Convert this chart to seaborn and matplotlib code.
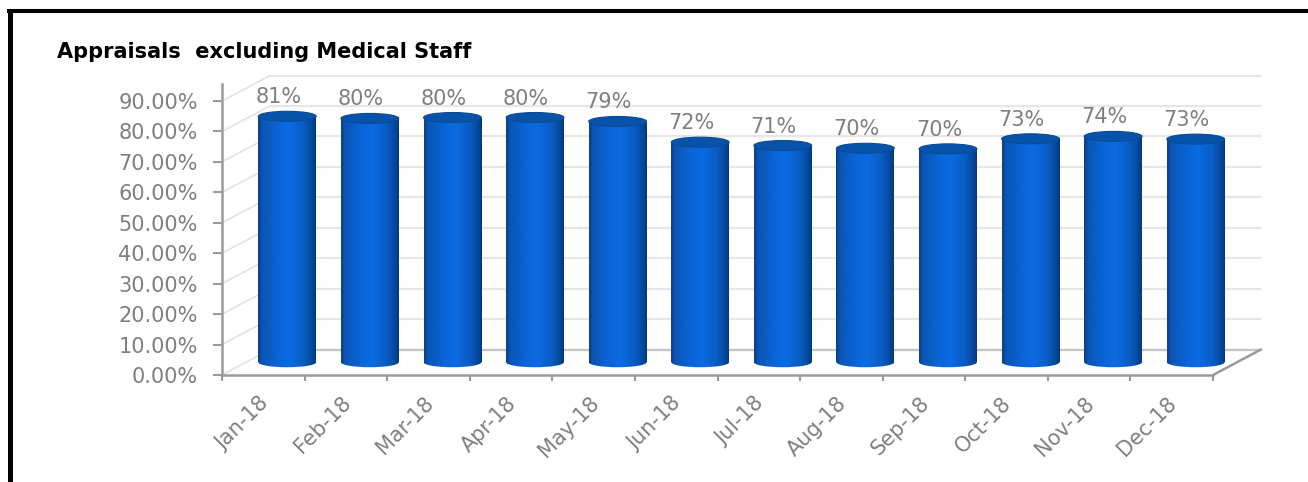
import numpy as np
import pandas as pd
import matplotlib
matplotlib.use("Agg")
import matplotlib.pyplot as plt
import seaborn as sns
from matplotlib.transforms import ScaledTranslation
from matplotlib.patches import Ellipse, ConnectionPatch
from matplotlib.colors import LinearSegmentedColormap
from matplotlib.lines import Line2D

# ---- data -------------------------------------------------------------
months = ["Jan-18", "Feb-18", "Mar-18", "Apr-18", "May-18", "Jun-18",
          "Jul-18", "Aug-18", "Sep-18", "Oct-18", "Nov-18", "Dec-18"]
rates = [80.8, 80.1, 80.4, 80.4, 79.1, 72.3, 71.2, 70.3, 70.1, 73.4, 74.2, 73.3]
y_ticks = [0, 10, 20, 30, 40, 50, 60, 70, 80, 90]
y_tick_labels = [f"{t:.2f}%" for t in y_ticks]
title = "Appraisals  excluding Medical Staff"

# ---- style ------------------------------------------------------------
sns.set_theme(style="white")
plt.rcParams["font.family"] = ["DejaVu Sans"]

AXIS_GREY = "#9a9a9a"
TEXT_GREY = "#7f7f7f"
WALL_GREY = "#e6e6e6"

W, H, DPI = 1308, 482, 100
fig = plt.figure(figsize=(W / DPI, H / DPI), dpi=DPI)
fig.patch.set_facecolor("white")

# front plane of the pseudo-3D plot
ax = fig.add_axes([222 / W, 107 / H, 991 / W, 290.7 / H])

df = pd.DataFrame({"month": months, "rate": rates})
sns.barplot(data=df, x="month", y="rate", ax=ax, width=0.7,
            color="#0a62d0", saturation=1, zorder=2)

XLIM, YLIM = (-0.5, 11.5), (0, 95.5)
ax.set_xlim(*XLIM)
ax.set_ylim(*YLIM)


def shift(dx_px, dy_px):
    """Data transform displaced by a pixel offset (depth effect)."""
    return ax.transData + ScaledTranslation(dx_px / DPI, dy_px / DPI, fig.dpi_scale_trans)


back = shift(48, 25.5)   # back wall plane
mid = shift(24, 12.75)   # plane where the cylinders stand

# ---- back wall gridlines, side wall and floor --------------------------
for t in y_ticks:
    ax.plot(list(XLIM), [t, t], transform=back, color=WALL_GREY, lw=1.6,
            zorder=0.5, clip_on=False, solid_capstyle="butt")
    con = ConnectionPatch(xyA=(XLIM[0], t), coordsA=ax.transData,
                          xyB=(XLIM[0], t), coordsB=back,
                          color="#e2e2e2", lw=1.2, zorder=0.6)
    con.set_clip_on(False)
    ax.add_artist(con)

# floor back edge and right edge
ax.plot(list(XLIM), [0, 0], transform=back, color="#c4c4c4", lw=1.6,
        zorder=0.7, clip_on=False)
edge = ConnectionPatch(xyA=(XLIM[1], 0), coordsA=ax.transData,
                       xyB=(XLIM[1], 0), coordsB=back,
                       color=AXIS_GREY, lw=1.8, zorder=0.8)
edge.set_clip_on(False)
ax.add_artist(edge)

# ---- cylinders --------------------------------------------------------
cyl_cmap = LinearSegmentedColormap.from_list(
    "cylinder",
    [(0.0, "#0b3f85"), (0.07, "#0a55b6"), (0.38, "#0a67da"), (0.55, "#0b6be1"),
     (0.8, "#095bc2"), (0.92, "#064a9f"), (1.0, "#03397c")])
grad = np.linspace(0, 1, 256).reshape(1, -1)
cap_h = 10 / 3.044  # ellipse height in data units

bars = list(ax.containers[0])
for patch, v in zip(bars, rates):
    x0, w, h = patch.get_x(), patch.get_width(), patch.get_height()
    xc = x0 + w / 2
    patch.set_transform(mid)
    patch.set_facecolor("none")
    patch.set_edgecolor("none")
    patch.set_clip_on(False)

    body = ax.imshow(grad, cmap=cyl_cmap, aspect="auto", interpolation="bilinear",
                     extent=(x0, x0 + w, 0, h), transform=mid, zorder=2)
    body.set_clip_box(fig.bbox)
    body.set_clip_path(patch)

    base = Ellipse((xc, 0), w, cap_h, transform=mid, facecolor="none",
                   edgecolor="none", clip_on=False)
    ax.add_patch(base)
    bottom = ax.imshow(grad, cmap=cyl_cmap, aspect="auto", interpolation="bilinear",
                       extent=(x0, x0 + w, -cap_h, cap_h), transform=mid, zorder=2)
    bottom.set_clip_box(fig.bbox)
    bottom.set_clip_path(base)

    top = Ellipse((xc, h), w, cap_h, transform=mid, facecolor="#0853aa",
                  edgecolor="#0a4a98", lw=0.8, zorder=3, clip_on=False)
    ax.add_patch(top)

    ax.annotate(f"{v:.0f}%", xy=(xc, h), xycoords=mid, xytext=(-9, 9),
                textcoords="offset pixels", ha="center", va="bottom",
                color=TEXT_GREY, fontsize=15, zorder=4, annotation_clip=False)

ax.set_xlim(*XLIM)
ax.set_ylim(*YLIM)

# ---- axes -------------------------------------------------------------
ax.set_xlabel("")
ax.set_ylabel("")
ax.set_yticks(y_ticks)
ax.set_yticklabels(y_tick_labels)
ax.tick_params(axis="y", left=True, length=6.5, width=1.5, color=AXIS_GREY,
               labelcolor=TEXT_GREY, labelsize=15, pad=11)

ax.set_xticks(np.arange(XLIM[0], XLIM[1] + 0.01, 1))
ax.set_xticklabels([])
ax.set_xticks(range(len(months)), minor=True)
ax.set_xticklabels(months, minor=True, rotation=45, ha="right", va="top")
ax.tick_params(axis="x", which="major", bottom=True, length=4.5, width=1.5,
               color=AXIS_GREY)
ax.tick_params(axis="x", which="minor", bottom=True, length=0, pad=13,
               labelcolor=TEXT_GREY, labelsize=15)
for lbl in ax.get_xticklabels(minor=True):
    lbl.set_transform(lbl.get_transform()
                      + ScaledTranslation(9 / DPI, 0, fig.dpi_scale_trans))

for side in ("top", "right"):
    ax.spines[side].set_visible(False)
for side in ("left", "bottom"):
    ax.spines[side].set_color(AXIS_GREY)
    ax.spines[side].set_linewidth(1.8)
ax.grid(False)
ax.patch.set_alpha(0)

# ---- title and frame --------------------------------------------------
fig.text(57 / W, 1 - 52 / H, title, fontsize=15, fontweight="bold",
         color="black", ha="left", va="center")

fig.add_artist(Line2D([9.5 / W, 9.5 / W], [0, 1 - 9 / H],
                      transform=fig.transFigure, color="black", lw=3.6,
                      solid_capstyle="butt"))
fig.add_artist(Line2D([7 / W, 1], [1 - 11 / H, 1 - 11 / H],
                      transform=fig.transFigure, color="black", lw=2.9,
                      solid_capstyle="butt"))

fig.savefig("out.png", dpi=DPI)
